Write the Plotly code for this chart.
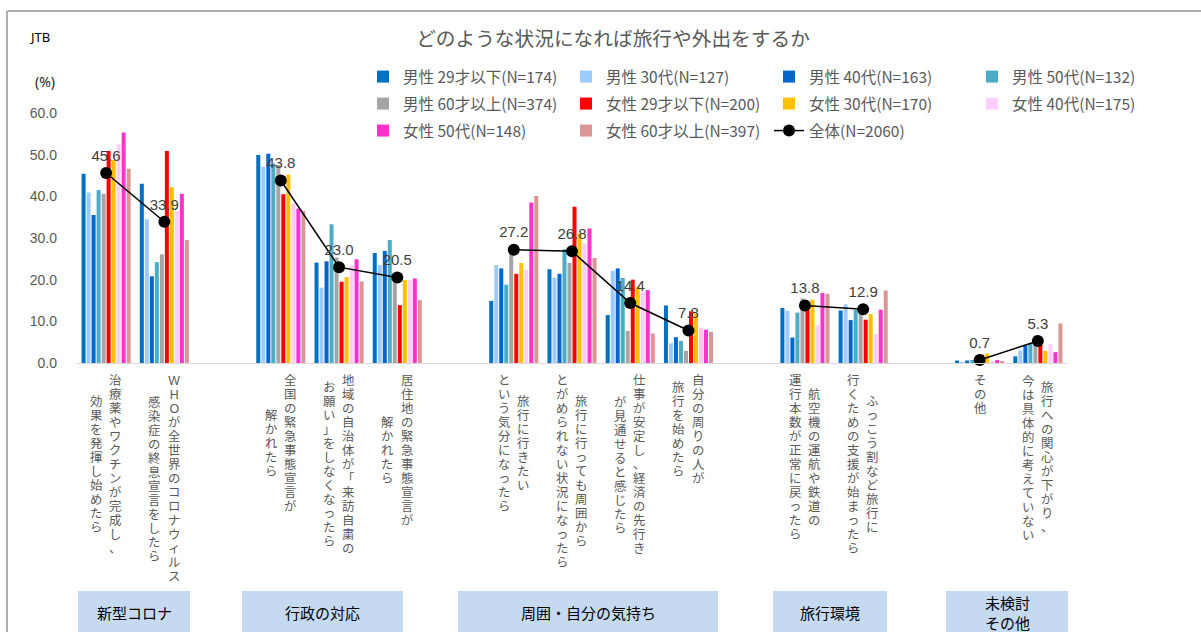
import plotly.graph_objects as go

# ---------------- data ----------------
label_columns = [
    ["治療薬やワクチンが完成し、", "効果を発揮し始めたら"],
    ["WHOが全世界のコロナウィルス", "感染症の終息宣言をしたら"],
    ["全国の緊急事態宣言が", "解かれたら"],
    ["地域の自治体が「来訪自粛の", "お願い」をしなくなったら"],
    ["居住地の緊急事態宣言が", "解かれたら"],
    ["旅行に行きたい", "という気分になったら"],
    ["旅行に行っても周囲から", "とがめられない状況になったら"],
    ["仕事が安定し、経済の先行き", "が見通せると感じたら"],
    ["自分の周りの人が", "旅行を始めたら"],
    ["航空機の運航や鉄道の", "運行本数が正常に戻ったら"],
    ["ふっこう割など旅行に", "行くための支援が始まったら"],
    ["その他"],
    ["旅行への関心が下がり、", "今は具体的に考えていない"],
]
group_names = ["新型コロナ", "行政の対応", "周囲・自分の気持ち", "旅行環境", "未検討<br>その他"]
group_sizes = [2, 3, 4, 2, 2]

series_names = [
    "男性 29才以下(N=174)", "男性 30代(N=127)", "男性 40代(N=163)", "男性 50代(N=132)",
    "男性 60才以上(N=374)", "女性 29才以下(N=200)", "女性 30代(N=170)", "女性 40代(N=175)",
    "女性 50代(N=148)", "女性 60才以上(N=397)",
]
m29 = [45.4, 43.0, 49.9, 24.1, 26.4, 14.9, 22.5, 11.5, 13.8, 13.2, 12.6, 0.6, 1.6]
m30 = [40.9, 34.5, 47.1, 18.1, 23.5, 23.5, 20.5, 22.1, 4.7, 12.5, 14.1, 0.2, 3.0]
m40 = [35.5, 20.8, 50.2, 24.4, 26.9, 22.7, 21.4, 22.7, 6.2, 6.1, 10.3, 0.6, 4.2]
m50 = [41.5, 24.2, 47.9, 33.3, 29.5, 18.8, 27.3, 20.4, 5.3, 12.1, 12.7, 0.7, 4.7]
m60 = [40.6, 26.1, 47.5, 25.3, 21.0, 27.5, 24.0, 7.7, 2.9, 15.5, 13.5, 0.5, 6.6]
f29 = [50.9, 50.9, 40.5, 19.5, 13.9, 21.4, 37.5, 20.0, 12.4, 13.9, 10.4, 2.0, 4.3]
f30 = [48.7, 42.2, 45.2, 20.6, 19.9, 24.0, 31.1, 18.3, 11.9, 15.2, 11.7, 2.3, 2.9]
f40 = [52.5, 36.5, 38.3, 23.5, 19.9, 22.3, 28.7, 17.1, 8.5, 9.1, 6.9, 0.5, 4.5]
f50 = [55.3, 40.6, 37.1, 24.9, 20.3, 38.5, 32.3, 17.5, 8.0, 16.8, 12.8, 0.7, 2.6]
f60 = [46.6, 29.5, 36.5, 19.6, 15.1, 40.1, 25.2, 7.1, 7.5, 16.6, 17.4, 0.3, 9.5]
total_name = "全体(N=2060)"
total = [45.6, 33.9, 43.8, 23.0, 20.5, 27.2, 26.8, 14.4, 7.8, 13.8, 12.9, 0.7, 5.3]

series_values = [m29, m30, m40, m50, m60, f29, f30, f40, f50, f60]
series_colors = ["#0070C0", "#9DCBFF", "#0066CC", "#4BACC6", "#A5A5A5",
                 "#FF0000", "#FFC000", "#FFCCFF", "#FF33CC", "#DA9694"]

y_ticks = [0, 10, 20, 30, 40, 50, 60]

# ---------------- layout helpers ----------------
W, H = 1201, 632
PL, PR, PT, PB = 77, 1067, 113, 363
def px_x(px):
    return (px - PL) / (PR - PL)
def px_y(py):
    return (PB - py) / (PB - PT)

# slot positions with a blank slot between groups
positions = []
line_x, line_y = [], []
slot = 0
k = 0
for gi, size in enumerate(group_sizes):
    for _ in range(size):
        positions.append(slot)
        line_x.append(slot)
        line_y.append(total[k])
        k += 1
        slot += 1
    if gi < len(group_sizes) - 1:
        line_x.append(slot)
        line_y.append(None)
        slot += 1
n_slots = slot

JP = "Noto Sans CJK JP"
NUM = "Liberation Sans"
VERT_FAMILY = "Liberation Sans, Noto Sans CJK JP"

fig = go.Figure()
legend_ids = ["legend"] * 4 + ["legend2"] * 4 + ["legend3"] * 2
for name, vals, col, lg in zip(series_names, series_values, series_colors, legend_ids):
    fig.add_trace(go.Bar(
        x=positions, y=vals, name=name, marker=dict(color=col, line=dict(width=0)),
        legend=lg, hoverinfo="name+y",
    ))

fig.add_trace(go.Scatter(
    x=line_x, y=line_y, name=total_name, mode="lines+markers+text",
    line=dict(color="#000000", width=1.5),
    marker=dict(color="#000000", size=12),
    text=[("%.1f" % v) if v is not None else "" for v in line_y],
    textposition="top center",
    textfont=dict(family=NUM, size=15, color="#404040"),
    connectgaps=False, legend="legend3", cliponaxis=False,
))

legend_common = dict(
    orientation="h", xanchor="left", yanchor="middle", x=px_x(363),
    entrywidth=158, entrywidthmode="pixels", itemwidth=30,
    font=dict(family=JP, size=15.5, color="#595959"),
    bgcolor="rgba(0,0,0,0)", traceorder="normal",
)

annotations = []
# vertical category labels (columns read right to left, characters stacked)
PITCH = 14.0
GLYPH = 12.4
for pos, cols in zip(positions, label_columns):
    L = max(len(c) for c in cols)
    center_px = PB + 11 + 7 * L
    ncol = len(cols)
    for ci, col_text in enumerate(cols):
        off = ((ncol - 1) / 2 - ci) * 0.335
        txt = "<span style='font-size:%.1fpx'>" % GLYPH + "<br>".join(list(col_text)) + "</span>"
        annotations.append(dict(
            x=pos + off, xref="x", y=px_y(center_px), yref="paper",
            text=txt, showarrow=False, xanchor="center", yanchor="middle",
            font=dict(family=VERT_FAMILY, size=PITCH / 1.3, color="#595959"),
        ))

# group boxes
box_px = [(78, 190), (242, 403), (458, 718), (773, 887), (946, 1068)]
shapes = []
for (x0, x1), gname in zip(box_px, group_names):
    shapes.append(dict(type="rect", xref="paper", yref="paper",
                       x0=px_x(x0), x1=px_x(x1), y0=px_y(591), y1=px_y(660),
                       fillcolor="#C5D9F1", line=dict(width=0), layer="below"))
    annotations.append(dict(
        x=px_x((x0 + x1) / 2), xref="paper", y=px_y(612.5), yref="paper",
        text=gname, showarrow=False, xanchor="center", yanchor="middle",
        font=dict(family=JP, size=15, color="#000000"),
    ))

# outer border (top and left visible)
shapes.append(dict(type="line", xref="paper", yref="paper",
                   x0=px_x(7), x1=px_x(1210), y0=px_y(11), y1=px_y(11),
                   line=dict(color="#ADADAD", width=2)))
shapes.append(dict(type="line", xref="paper", yref="paper",
                   x0=px_x(7), x1=px_x(7), y0=px_y(11), y1=px_y(660),
                   line=dict(color="#ADADAD", width=2)))

annotations.append(dict(x=px_x(39), y=px_y(37), xref="paper", yref="paper",
                        text="JTB", showarrow=False, xanchor="center", yanchor="middle",
                        font=dict(family="Noto Sans", size=13, color="#000000")))
annotations.append(dict(x=px_x(45), y=px_y(82), xref="paper", yref="paper",
                        text="(%)", showarrow=False, xanchor="center", yanchor="middle",
                        font=dict(family="Noto Sans", size=14, color="#262626")))

fig.update_layout(
    width=W, height=H,
    margin=dict(l=PL, r=W - PR, t=PT, b=H - PB, pad=0),
    paper_bgcolor="#FFFFFF", plot_bgcolor="#FFFFFF",
    title=dict(text="どのような状況になれば旅行や外出をするか",
               x=613 / W, xanchor="center", y=1 - 39 / H, yanchor="middle",
               font=dict(family=JP, size=19.7, color="#595959")),
    barmode="group", bargap=0.14, bargroupgap=0.2,
    xaxis=dict(range=[-0.5, n_slots - 0.5], showticklabels=False, ticks="",
               showgrid=False, zeroline=False, showline=True,
               linecolor="#D9D9D9", linewidth=1),
    yaxis=dict(range=[0, 60], tickvals=y_ticks, tickformat=".1f", showgrid=False,
               zeroline=False, showline=False, ticks="", ticklabelstandoff=19,
               tickfont=dict(family=NUM, size=14, color="#595959")),
    legend=dict(legend_common, y=px_y(77)),
    legend2=dict(legend_common, y=px_y(104)),
    legend3=dict(legend_common, y=px_y(131)),
    annotations=annotations, shapes=shapes,
    showlegend=True,
)

fig.write_html("out.html")
